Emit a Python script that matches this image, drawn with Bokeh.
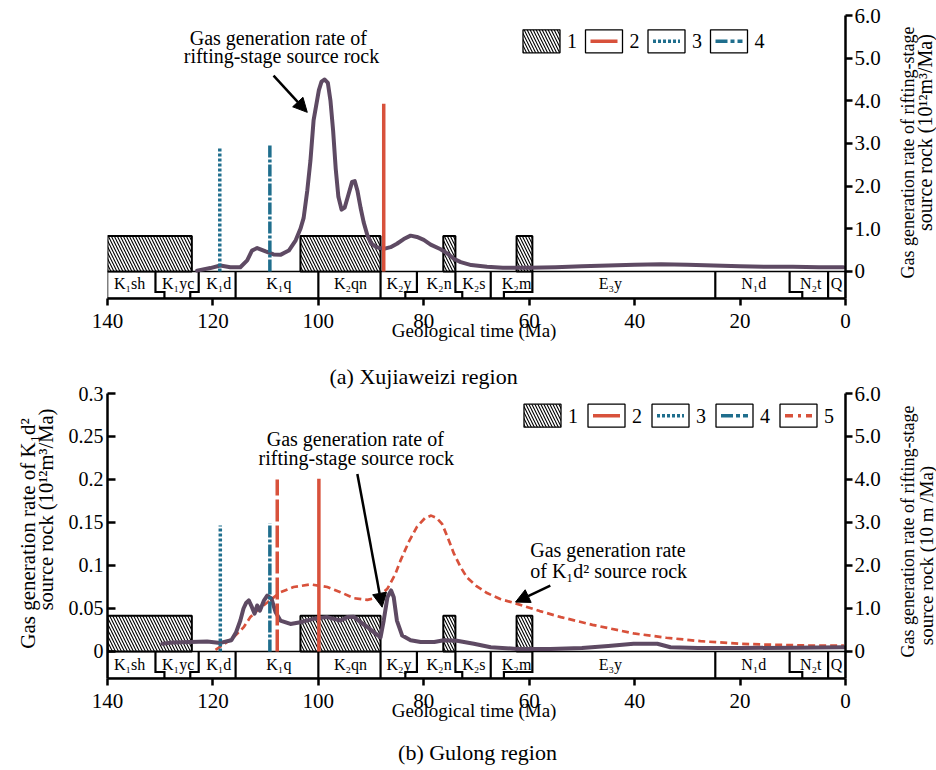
import math
from bokeh.plotting import figure
from bokeh.models import (Range1d, LinearAxis, FixedTicker, CustomJSTickFormatter, Label,
                          Arrow, NormalHead, BoxAnnotation, Title)
from bokeh.layouts import column, row
from bokeh.core.properties import value
from bokeh.embed import file_html
from bokeh.resources import INLINE

# ---------------- data ----------------
ma_ticks = [140, 120, 100, 80, 60, 40, 20, 0]
rate_ticks = [0, 1, 2, 3, 4, 5, 6]
k1d_ticks = [0, 0.05, 0.1, 0.15, 0.2, 0.25, 0.3]

strata_names = ["K\u2081sh", "K\u2081yc", "K\u2081d", "K\u2081q", "K\u2082qn", "K\u2082y", "K\u2082n",
                "K\u2082s", "K\u2082m", "E\u2083y", "N\u2081d", "N\u2082t", "Q"]
strata_mid = [135.8, 126.6, 118.9, 107.5, 93.9, 84.7, 77.1, 70.5, 62.4, 44.6, 17.4, 6.6, 1.7]
bound_top = [130.9, 122.7, 115.7, 100.0, 88.2, 81.3, 74.0, 67.3, 59.4, 24.7, 10.6, 3.3]
bound_bottom = [129.2, 124.3, 115.7, 100.0, 88.2, 83.5, 72.7, 67.3, 64.8, 24.7, 8.2, 3.3]

src_left = [140.0, 103.4, 76.3, 62.4]
src_right = [124.0, 88.2, 74.0, 59.4]
src_height = [0.83, 0.83, 0.83, 0.83]

# (a) Xujiaweizi: rifting-stage source rock gas generation rate (10^12 m3/Ma)
a_ma = [123.0, 120.5, 118.6, 116.7, 114.8, 113.5, 112.6, 111.6, 110.0, 108.5, 107.2, 105.6, 104.3,
        103.4, 102.8, 102.1, 101.5, 100.9, 100.4, 99.9, 99.4, 98.8, 98.2, 97.7, 97.2, 96.7, 96.2,
        95.6, 95.0, 94.3, 93.6, 93.1, 92.6, 92.0, 91.4, 90.7, 90.0, 89.0, 87.6, 86.3, 85.1, 83.8,
        82.5, 81.3, 80.0, 78.7, 76.8, 75.5, 74.3, 73.0, 71.0, 68.0, 65.0, 60.0, 55.0, 50.0, 45.0,
        40.0, 35.0, 30.0, 25.0, 20.0, 15.0, 10.0, 5.0, 0.4]
a_rate = [0.02, 0.08, 0.14, 0.10, 0.10, 0.26, 0.49, 0.55, 0.47, 0.40, 0.39, 0.49, 0.73,
          1.00, 1.25, 1.90, 2.60, 3.55, 3.90, 4.25, 4.45, 4.50, 4.42, 4.00, 3.30, 2.40, 1.75,
          1.45, 1.50, 1.80, 2.10, 2.12, 1.90, 1.50, 1.15, 0.85, 0.66, 0.57, 0.53, 0.57, 0.65, 0.76,
          0.84, 0.81, 0.74, 0.63, 0.52, 0.42, 0.30, 0.22, 0.15, 0.11, 0.09, 0.09, 0.10, 0.12, 0.14,
          0.16, 0.17, 0.16, 0.14, 0.12, 0.11, 0.11, 0.10, 0.10]
a_event_ma = [118.7, 109.2, 87.6]
a_event_top = [2.90, 2.97, 3.93]
a_event_kind = ["3", "4", "2"]

# (b) Gulong
b_ma = [129.6, 127.7, 124.3, 121.1, 118.6, 116.5, 115.6, 114.8, 114.2, 113.7, 113.2, 112.6, 112.1,
        111.6, 111.1, 110.3, 109.7, 108.9, 108.1, 107.2, 105.3, 103.4, 100.9, 98.3, 97.1, 95.8,
        94.5, 93.3, 92.0, 90.7, 89.5, 88.2, 87.6, 86.9, 86.2, 85.7, 85.1, 84.1, 82.5, 80.6, 78.0,
        76.2, 73.7, 70.5, 67.3, 62.3, 56.0, 50.0, 45.0, 40.2, 35.7, 33.2, 28.0, 20.0, 10.0, 0.3]
b_rate = [0.18, 0.21, 0.22, 0.23, 0.20, 0.26, 0.45, 0.72, 1.00, 1.13, 1.19, 1.03, 0.88,
          1.07, 0.95, 1.19, 1.30, 1.23, 0.91, 0.72, 0.64, 0.68, 0.76, 0.80, 0.76, 0.72,
          0.80, 0.81, 0.68, 0.57, 0.45, 0.33, 0.72, 1.26, 1.42, 1.26, 0.72, 0.37, 0.26, 0.22, 0.22,
          0.26, 0.25, 0.18, 0.10, 0.06, 0.06, 0.08, 0.13, 0.18, 0.18, 0.10, 0.08, 0.08, 0.09, 0.10]
b_k1d_ma = [119.5, 118.0, 116.0, 114.2, 112.9, 111.2, 109.7, 107.2, 104.7, 101.5, 98.3, 95.8, 93.3,
            90.7, 88.8, 86.9, 85.4, 84.4, 82.8, 81.3, 79.8, 78.6, 77.5, 76.5, 75.3, 74.3, 73.0,
            71.8, 70.0, 68.0, 65.5, 62.6, 58.0, 54.0, 48.0, 40.2, 34.0, 27.5, 20.0, 14.9, 7.0, 0.3]
b_k1d_rate = [0.002, 0.008, 0.017, 0.028, 0.040, 0.050, 0.057, 0.069, 0.075, 0.078, 0.075, 0.069, 0.062,
              0.060, 0.063, 0.073, 0.090, 0.106, 0.128, 0.145, 0.155, 0.158, 0.155, 0.148, 0.130, 0.114, 0.098,
              0.086, 0.076, 0.068, 0.061, 0.056, 0.047, 0.040, 0.031, 0.021, 0.016, 0.012, 0.009, 0.008, 0.007, 0.007]
b_event_ma = [118.6, 109.2, 107.8, 99.9]
b_event_top = [2.93, 2.98, 4.00, 4.02]
b_event_kind = ["3", "4", "5", "2"]

legend_a = ["1", "2", "3", "4"]
legend_b = ["1", "2", "3", "4", "5"]

# ---------------- styles ----------------
FONT = "Liberation Serif"
RED = "#d8513b"
BLUE = "#1f6e8d"
PURPLE = "#5e4a63"
EVENT_STYLE = {"2": (RED, "solid"), "3": (BLUE, "3 2"), "4": (BLUE, "12 2 3 2"), "5": (RED, "22 4")}
LEG_STYLE = {"2": (RED, "solid"), "3": (BLUE, "3 2"), "4": (BLUE, "12 3 4 3"), "5": (RED, "8 5 3 5")}
HATCH = dict(hatch_pattern="\\", hatch_color="black", hatch_scale=6, hatch_weight=1.1)

LEFT_W = 58      # width of the left text strip
RIGHT_W = 46     # width of the right text strip
FRAME_W = 738


def text_fig(width, height, labels):
    """A blank strip that only carries text labels (screen units inside its frame)."""
    f = figure(width=width, height=height, x_range=Range1d(0, 1), y_range=Range1d(0, 1),
               x_axis_location=None, y_axis_location=None, output_backend="svg",
               toolbar_location=None, min_border=0)
    f.grid.visible = False
    f.outline_line_color = None
    f.background_fill_color = "white"
    f.border_fill_color = "white"
    for (x, y, text, size, angle) in labels:
        f.add_layout(Label(x=x, y=y, x_units="screen", y_units="screen", text=text,
                           angle=angle, text_font=FONT, text_font_size=size,
                           text_align="center", text_baseline="middle", text_color="black"))
    return f


def make_fig(width, height, y_start, left_border, top_border, bottom_border):
    p = figure(width=width, height=height, x_range=Range1d(140, 0), y_range=Range1d(y_start, 6.0),
               y_axis_location="right", output_backend="svg", toolbar_location=None,
               min_border_left=left_border, min_border_right=width - left_border - FRAME_W,
               min_border_top=top_border, min_border_bottom=bottom_border)
    p.grid.visible = False
    p.outline_line_color = None
    p.background_fill_color = "white"
    p.border_fill_color = "white"
    xa = p.xaxis[0]
    xa.ticker = FixedTicker(ticks=ma_ticks)
    xa.axis_label = "Geological  time (Ma)"
    xa.axis_label_text_font = FONT
    xa.axis_label_text_font_size = "19px"
    xa.axis_label_text_font_style = "normal"
    xa.axis_label_standoff = -11
    xa.major_label_text_font = FONT
    xa.major_label_text_font_size = "21px"
    xa.major_label_standoff = 8
    ya = p.yaxis[0]
    ya.ticker = FixedTicker(ticks=rate_ticks)
    ya.formatter = CustomJSTickFormatter(code="return tick == 0 ? '0' : tick.toFixed(1)")
    ya.major_label_text_font = FONT
    ya.major_label_text_font_size = "21px"
    ya.major_label_standoff = 2
    for ax in (xa, ya):
        ax.axis_line_width = 2.5
        ax.major_tick_line_width = 2.5
        ax.major_tick_out = 7
        ax.major_tick_in = 0
        ax.minor_tick_out = 0
        ax.minor_tick_in = 0
        ax.axis_line_color = "black"
        ax.major_tick_line_color = "black"
        ax.major_label_text_color = "black"
        ax.axis_label_text_color = "black"
    return p


def draw_strata(p, y_start, label_y):
    step_y = 0.76 * y_start
    p.quad(left=[140], right=[0], top=[0], bottom=[y_start], fill_color="white",
           line_color="black", line_width=1.5)
    xs = [[t, t, b, b] for t, b in zip(bound_top, bound_bottom)]
    ys = [[0, step_y, step_y, y_start] for _ in bound_top]
    p.multi_line(xs=xs, ys=ys, line_color="black", line_width=2.2, line_join="miter")
    p.text(x=strata_mid, y=[label_y] * len(strata_mid), text=strata_names,
           text_font=value(FONT), text_font_size=value("16px"), text_align="center",
           text_baseline="middle", text_color="black")


def draw_sources(p):
    p.quad(left=src_left, right=src_right, bottom=[0] * len(src_left), top=src_height,
           fill_color="white", line_color="black", line_width=2, **HATCH)


def draw_events(p, ev_ma, ev_top, ev_kind):
    for m, t, k in zip(ev_ma, ev_top, ev_kind):
        col, dash = EVENT_STYLE[k]
        p.segment(x0=[m], y0=[0], x1=[m], y1=[t], line_color=col, line_width=3.5,
                  line_dash=dash, line_cap="butt")


def add_legend(p, items, x0, pitch, box_bottom):
    w, h = 37, 23
    for i, k in enumerate(items):
        left = x0 + i * pitch
        kw = dict(left=left, right=left + w, bottom=box_bottom, top=box_bottom + h,
                  left_units="screen", right_units="screen", top_units="screen",
                  bottom_units="screen", fill_color="white", fill_alpha=1.0,
                  line_color="black", line_width=1.3, line_alpha=1.0)
        if k == "1":
            kw.update(HATCH)
        p.add_layout(BoxAnnotation(**kw))
        if k != "1":
            col, dash = LEG_STYLE[k]
            p.add_layout(Arrow(start=None, end=None, x_start=left + 5, x_end=left + w - 5,
                               y_start=box_bottom + h / 2, y_end=box_bottom + h / 2,
                               start_units="screen", end_units="screen",
                               line_color=col, line_width=3.5, line_dash=dash))
        p.add_layout(Label(x=left + 49, y=box_bottom + h / 2, x_units="screen", y_units="screen",
                           text=k, text_font=FONT, text_font_size="20px", text_align="center",
                           text_baseline="middle", text_color="black"))


def data_label(p, x, y, text, align="center"):
    p.add_layout(Label(x=x, y=y, text=text, text_font=FONT, text_font_size="20px",
                       text_align=align, text_baseline="middle", text_color="black"))


def callout_arrow(p, xs, ys, xe, ye):
    p.add_layout(Arrow(end=NormalHead(size=14, fill_color="black", line_color="black"),
                       x_start=xs, y_start=ys, x_end=xe, y_end=ye,
                       line_color="black", line_width=2.5))


UP = math.pi / 2
RIGHT_L1 = "Gas generation rate of rifting-stage"

# ---------------- (a) Xujiaweizi ----------------
A_START = -0.633
H1 = 355
p1 = make_fig(936 - RIGHT_W, H1, A_START, 107, 15, H1 - 15 - 283)
draw_strata(p1, A_START, -0.28)
draw_sources(p1)
p1.line(a_ma, a_rate, line_color=PURPLE, line_width=4, line_join="round", line_cap="round")
draw_events(p1, a_event_ma, a_event_top, a_event_kind)
add_legend(p1, legend_a, 415.5, 62.5, 245.7)
data_label(p1, 107.6, 5.48, "Gas generation rate of")
data_label(p1, 107.0, 5.06, "rifting-stage source rock")
callout_arrow(p1, 108.5, 4.59, 102.1, 3.73)
# strip frame is aligned with the plot frame (page y 15..298)
r1 = text_fig(RIGHT_W, H1, [
    (17, 146, RIGHT_L1, "18px", UP),
    (34, 166, "source rock (10\u00b9\u00b2m\u00b3/Ma)", "20px", UP),
])

# ---------------- (b) Gulong ----------------
B_START = -0.628
H2 = 383
p2 = make_fig(936 - RIGHT_W - LEFT_W, H2, B_START, 107 - LEFT_W, 38, H2 - 38 - 285)
# caption of panel (a) sits in the band between the two panels
p2.add_layout(Title(text="(a) Xujiaweizi region", align="left", offset=222, text_font=FONT,
                    text_font_size="22px", text_font_style="normal", text_color="black",
                    standoff=10), "above")
p2.extra_y_ranges = {"k1d2": Range1d(B_START / 20.0, 0.3)}
la = LinearAxis(y_range_name="k1d2")
la.ticker = FixedTicker(ticks=k1d_ticks)
la.formatter = CustomJSTickFormatter(code="return tick == 0 ? '0' : String(+tick.toFixed(2))")
la.major_label_text_font = FONT
la.major_label_text_font_size = "20px"
la.major_label_standoff = 4
la.axis_line_width = 2.5
la.major_tick_line_width = 2.5
la.major_tick_in = 8
la.major_tick_out = 0
la.minor_tick_in = 0
la.minor_tick_out = 0
la.major_label_text_color = "black"
p2.add_layout(la, "left")

draw_strata(p2, B_START, -0.30)
draw_sources(p2)
p2.line(b_k1d_ma, b_k1d_rate, y_range_name="k1d2", line_color=RED, line_width=2.7,
        line_dash="7 4")
p2.line(b_ma, b_rate, line_color=PURPLE, line_width=4, line_join="round", line_cap="round")
draw_events(p2, b_event_ma, b_event_top, b_event_kind)
add_legend(p2, legend_b, 416.5, 64, 251.3)
data_label(p2, 93.0, 4.95, "Gas generation rate of")
data_label(p2, 92.8, 4.51, "rifting-stage source rock")
callout_arrow(p2, 92.6, 4.13, 87.9, 1.03)
data_label(p2, 59.8, 2.35, "Gas generation rate", align="left")
data_label(p2, 59.8, 1.88, "of K\u2081d\u00b2 source rock", align="left")
callout_arrow(p2, 56.0, 1.53, 62.6, 1.15)
# strip frames are aligned with the plot frame (page y 393..678)
l2 = text_fig(LEFT_W, H2, [
    (27, 145, "Gas generation rate of K\u2081d\u00b2", "21px", UP),
    (45, 169, "source rock (10\u00b9\u00b2m\u00b3/Ma)", "20.5px", UP),
])
r2 = text_fig(RIGHT_W, H2, [
    (17, 147, RIGHT_L1, "18px", UP),
    (36, 123, "source rock (10 m /Ma)", "19px", UP),
])
cap2 = text_fig(936, 31, [(477, 17, "(b) Gulong region", "22px", 0.0)])

layout = column(row(p1, r1, spacing=0), row(l2, p2, r2, spacing=0), cap2, spacing=0)
open("out.html", "w").write(file_html(layout, INLINE))
